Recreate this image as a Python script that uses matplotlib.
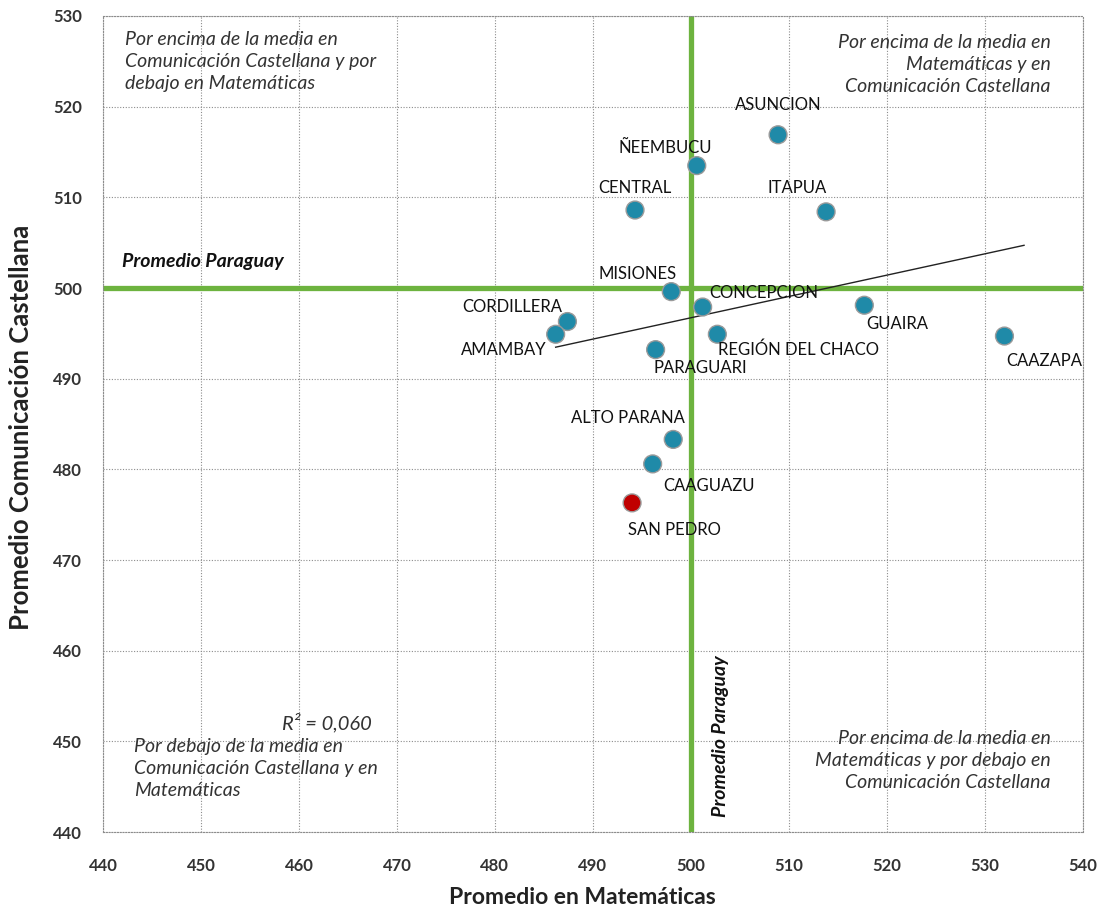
import numpy as np
import matplotlib
matplotlib.use("Agg")
import matplotlib.pyplot as plt

plt.rcParams['font.family'] = ['Lato', 'DejaVu Sans']

# datos por departamento
departamentos = ["ASUNCION", "ÑEEMBUCU", "CENTRAL", "ITAPUA", "MISIONES", "CONCEPCION",
                 "CORDILLERA", "AMAMBAY", "PARAGUARI", "REGIÓN DEL CHACO", "GUAIRA",
                 "CAAZAPA", "ALTO PARANA", "CAAGUAZU", "SAN PEDRO"]
matematicas = [508.9, 500.6, 494.3, 513.8, 498.0, 501.2,
               487.4, 486.2, 496.4, 502.7, 517.7,
               532.0, 498.2, 496.1, 494.0]
castellano = [516.9, 513.5, 508.6, 508.4, 499.6, 497.9,
              496.3, 494.9, 493.2, 494.9, 498.1,
              494.7, 483.3, 480.6, 476.3]
promedio_mat = 500
promedio_cast = 500
r2_texto = "R² = 0,060"

# offsets de etiquetas en pixeles (dx, dy, alineacion)
offsets = {
    "ASUNCION": (0, 30, "center"),
    "ÑEEMBUCU": (-32, 18, "center"),
    "CENTRAL": (0, 22, "center"),
    "ITAPUA": (-29, 24, "center"),
    "MISIONES": (-34, 18, "center"),
    "CONCEPCION": (7, 14, "left"),
    "CORDILLERA": (-5, 15, "right"),
    "AMAMBAY": (-9, -16, "right"),
    "PARAGUARI": (-2, -18, "left"),
    "REGIÓN DEL CHACO": (1, -16, "left"),
    "GUAIRA": (2, -19, "left"),
    "CAAZAPA": (2, -25, "left"),
    "ALTO PARANA": (-45, 21, "center"),
    "CAAGUAZU": (11, -22, "left"),
    "SAN PEDRO": (-4, -27, "left"),
}

fig = plt.figure(figsize=(11.01, 9.09), dpi=100)
ax = fig.add_axes([0.0935, 0.0847, 0.89, 0.8977])

ax.set_xlim(440, 540)
ax.set_ylim(440, 530)
ax.set_xticks(np.arange(440, 541, 10))
ax.set_yticks(np.arange(440, 531, 10))
ax.grid(True, color="#8c8c8c", linestyle=(0, (1, 1.5)), linewidth=0.8)
ax.set_axisbelow(True)
for s in ax.spines.values():
    s.set_color("#8c8c8c")
    s.set_linestyle((0, (1, 1.5)))
    s.set_linewidth(0.8)
ax.tick_params(length=0, labelsize=12)
ax.tick_params(axis="x", pad=19)
ax.tick_params(axis="y", pad=15)
for lab in ax.get_xticklabels() + ax.get_yticklabels():
    lab.set_fontweight("bold")
    lab.set_color("#333333")

verde = "#6db33f"
ax.axvline(promedio_mat, color=verde, linewidth=3.8, zorder=2)
ax.axhline(promedio_cast, color=verde, linewidth=3.8, zorder=2)

# linea de tendencia
x = np.array(matematicas)
y = np.array(castellano)
m, b = np.polyfit(x, y, 1)
xt = np.array([x.min(), 534.0])
ax.plot(xt, m * xt + b, color="#222222", linewidth=1.0, zorder=3)

colores = ["#c00000" if d == "SAN PEDRO" else "#1f8aa8" for d in departamentos]
ax.scatter(matematicas, castellano, s=165, c=colores, edgecolors="#9a9a9a",
           linewidths=1.0, zorder=4)

for d, xm, yc in zip(departamentos, matematicas, castellano):
    dx, dy, ha = offsets[d]
    ax.annotate(d, (xm, yc), xytext=(dx * 0.72, dy * 0.72), textcoords="offset points",
                ha=ha, va="center", fontsize=12, color="#111111", zorder=5)

nota = dict(fontsize=14, style="italic", color="#333333", linespacing=1.35)
ax.text(442.2, 528.3, "Por encima de la media en\nComunicación Castellana y por\ndebajo en Matemáticas",
        ha="left", va="top", **nota)
ax.text(536.7, 528.0, "Por encima de la media en\nMatemáticas y en\nComunicación Castellana",
        ha="right", va="top", multialignment="right", **nota)
ax.text(443.2, 450.4, "Por debajo de la media en\nComunicación Castellana y en\nMatemáticas",
        ha="left", va="top", **nota)
ax.text(536.7, 451.25, "Por encima de la media en\nMatemáticas y por debajo en\nComunicación Castellana",
        ha="right", va="top", multialignment="right", **nota)
ax.text(467.4, 452.1, r2_texto, ha="right", va="center", fontsize=14.5, style="italic", color="#333333")

ax.text(441.9, 502.9, "Promedio Paraguay", ha="left", va="center", fontsize=14,
        style="italic", fontweight="bold", color="#111111")
ax.text(503.0, 450.6, "Promedio Paraguay", ha="center", va="center", fontsize=14,
        style="italic", fontweight="bold", color="#111111", rotation=90)

ax.set_xlabel("Promedio en Matemáticas", fontsize=16.5, fontweight="bold", color="#222222")
ax.set_ylabel("Promedio Comunicación Castellana", fontsize=18.5, fontweight="bold", color="#222222")
ax.xaxis.set_label_coords(0.489, -0.067)
ax.yaxis.set_label_coords(-0.071, 0.496)

fig.savefig("out.png", dpi=100)
